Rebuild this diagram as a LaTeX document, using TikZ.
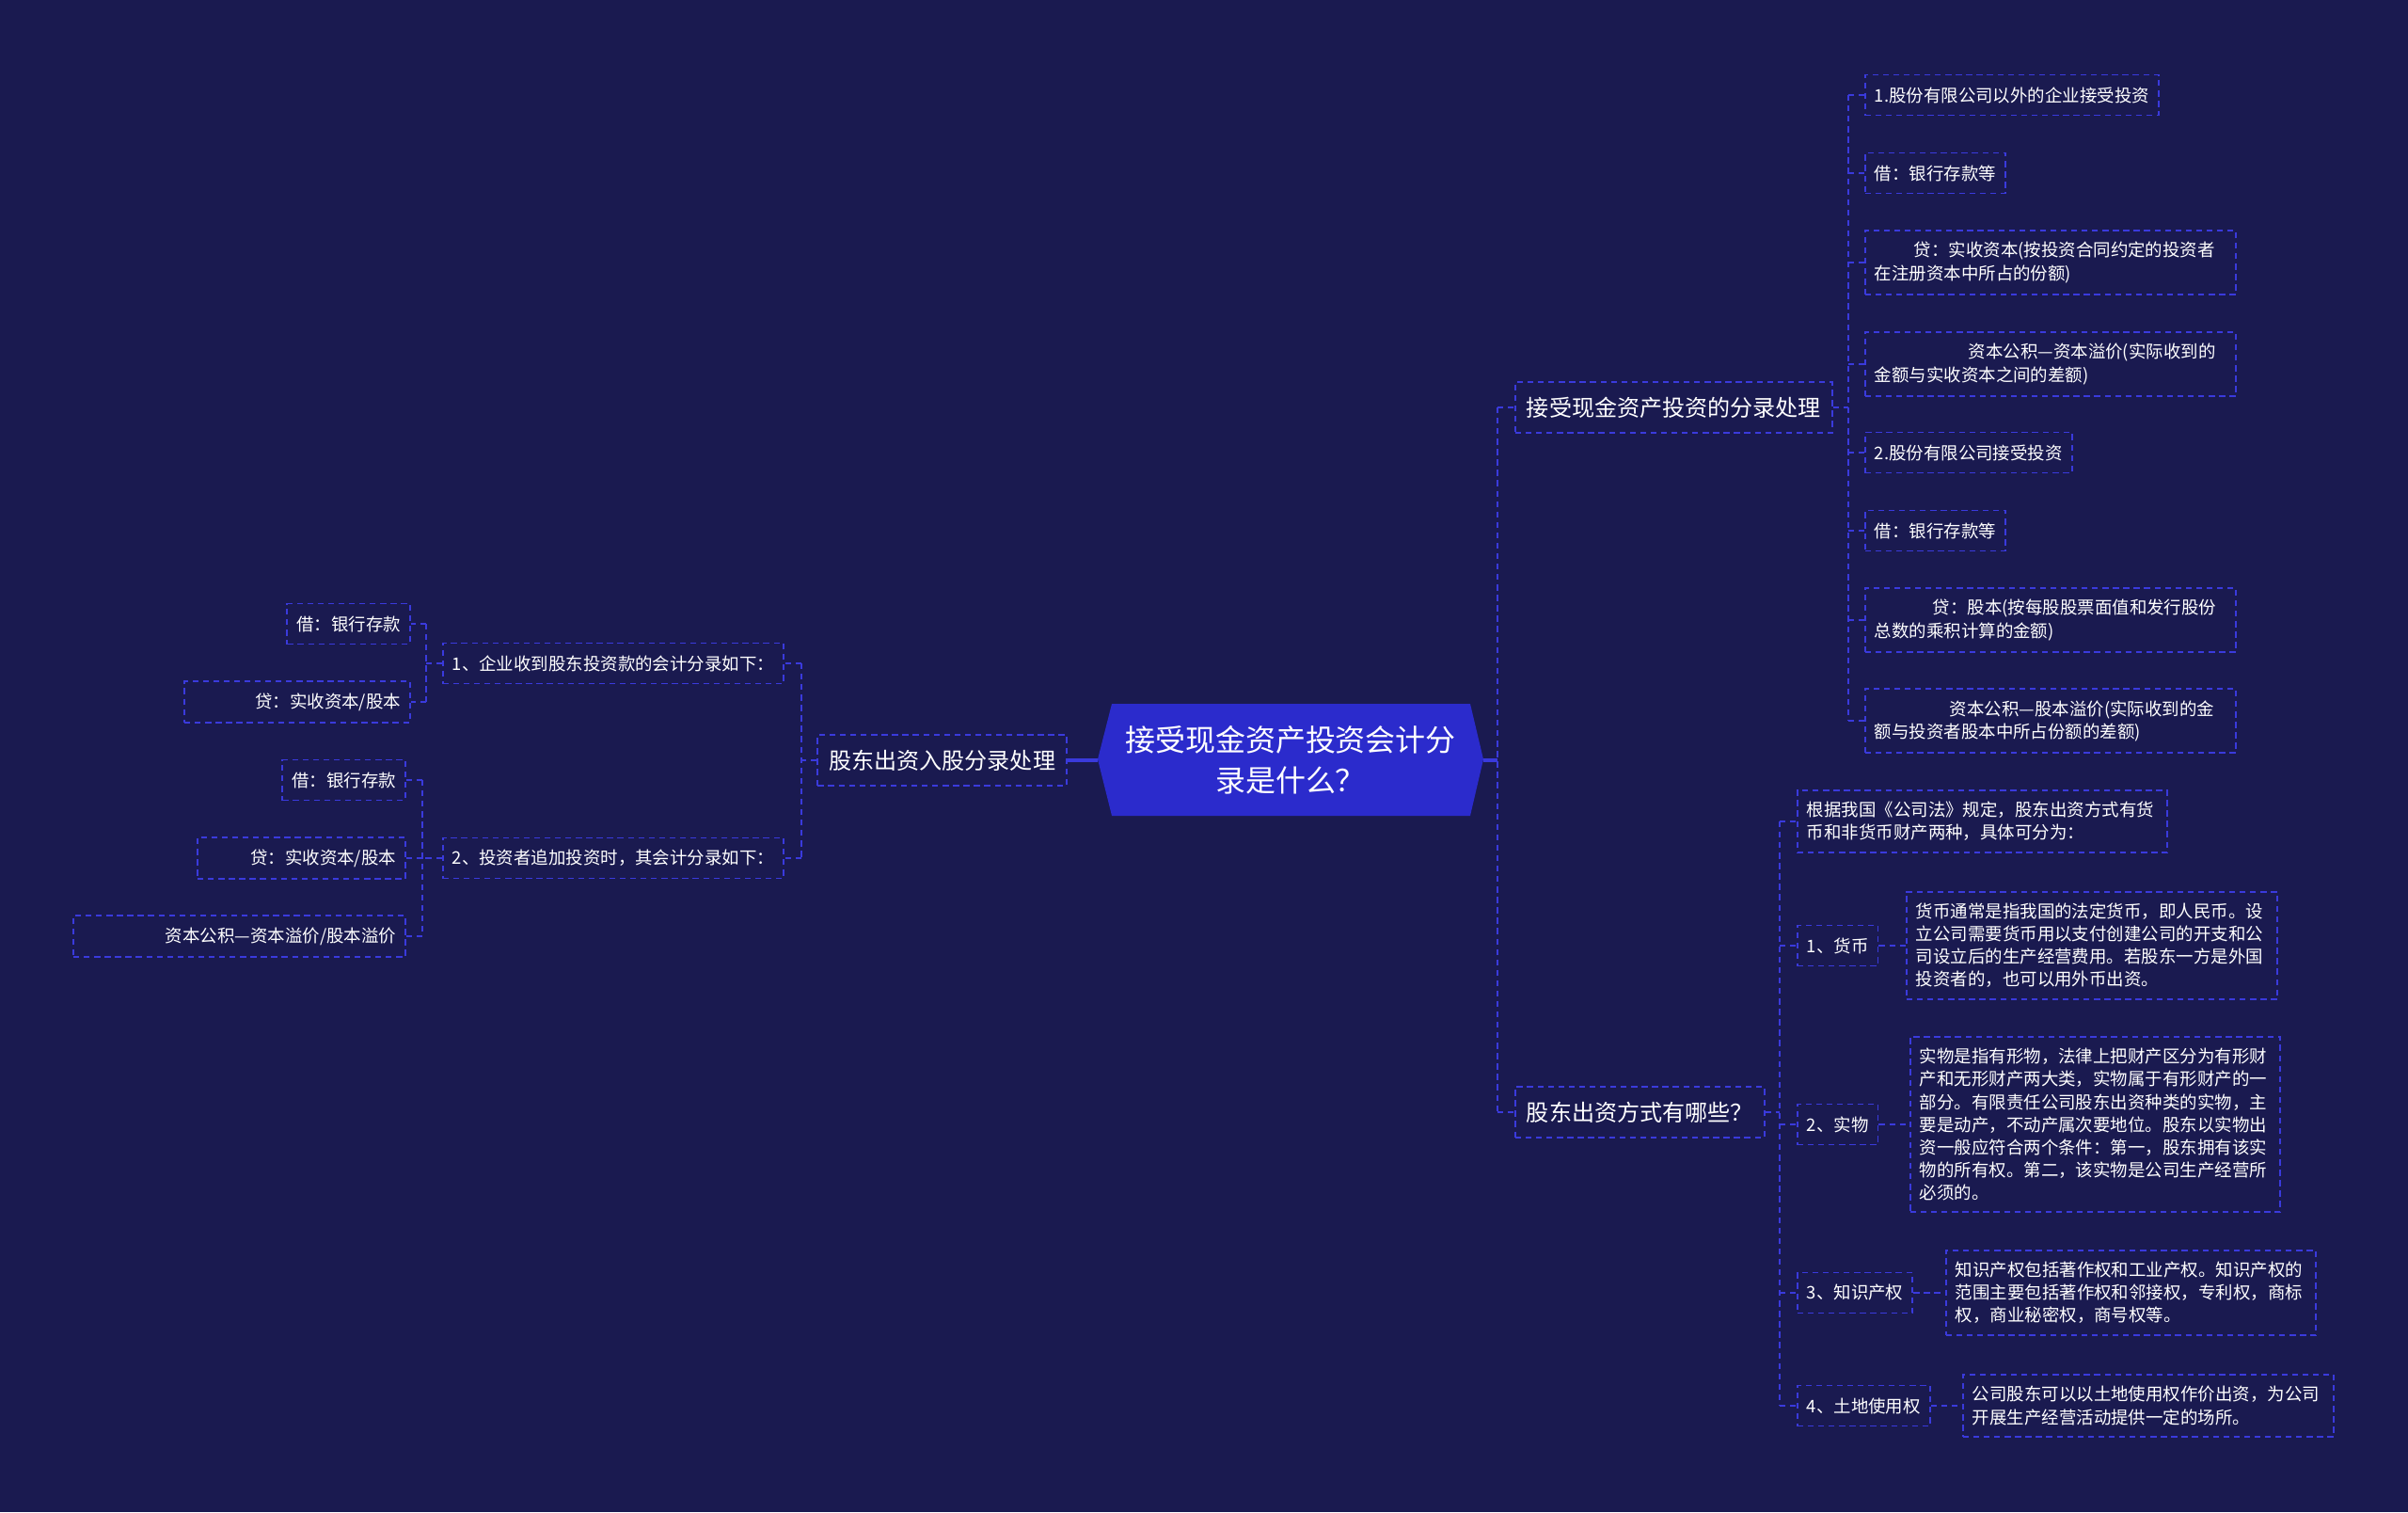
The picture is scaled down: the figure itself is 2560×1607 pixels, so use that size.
\documentclass[tikz,border=0pt]{standalone}
\usepackage{fontspec}
\setmainfont{Noto Sans CJK SC}
\usepackage{tikz}
\definecolor{cbg}{HTML}{1A1A50}
\definecolor{cline}{HTML}{3A3ADC}
\definecolor{chex}{HTML}{2B2BCC}
\tikzset{
  mlink/.style={cline, line width=1.05pt, dash pattern=on 3.6pt off 2.7pt},
  mtrunk/.style={cline, line width=1.8pt},
  mleaf/.style={draw=cline, line width=1.05pt, dash pattern=on 3.6pt off 2.7pt, text=white,
    font=\fontsize{10.5pt}{13.7pt}\selectfont, inner xsep=0.2cm, inner ysep=0.25cm, minimum height=0.86cm},
  mtopic/.style={mleaf, font=\fontsize{13.7pt}{17pt}\selectfont, inner xsep=0.24cm, minimum height=1.08cm},
  mroot/.style={text=white, align=center, font=\fontsize{18.2pt}{24.5pt}\selectfont,
    minimum width=8.2cm, inner sep=0pt}}
\newcommand{\leaf}[5]{\node[mleaf,#2] (#1) at (#3,#4) {#5};}
\newcommand{\leafw}[6]{%
  \pgfmathsetlengthmacro\mtw{(#5-20)*0.02cm}%
  \node[mleaf,#2,text width=\mtw] (#1) at (#3,#4) {#6};}
\newcommand{\fork}[6]{%
  \coordinate (fk) at (#2,0);
  \draw[mlink] (#1) -- (#1 -| fk);
  \draw[mlink] (#4.#3 -| fk) -- (#5.#3 -| fk);
  \foreach \ch in {#6}{\draw[mlink] (\ch.#3 -| fk) -- (\ch.#3);}}

\begin{document}
\begin{tikzpicture}[x=0.02cm,y=-0.02cm]
  \fill[cbg] (0,0) rectangle (2560,1607);
  \fill[chex] (1167,807) -- (1182,748) -- (1563,748) -- (1577,807) -- (1563,867) -- (1182,867) -- cycle;
  \node[mroot] (root) at (1372,808) {接受现金资产投资会计分\\录是什么？};
  \node[mtopic,anchor=west] (A) at (1610,433) {接受现金资产投资的分录处理};
  \node[mtopic,anchor=west] (B) at (1610,1182) {股东出资方式有哪些？};
  \node[mtopic,anchor=east] (L) at (1135,808) {股东出资入股分录处理};

  \leaf{p1}{anchor=east}{834}{705}{1、企业收到股东投资款的会计分录如下：}
  \leaf{p2}{anchor=east}{834}{912}{2、投资者追加投资时，其会计分录如下：}
  \leaf{c1}{anchor=east}{437}{663}{借：银行存款}
  \leafw{c2}{anchor=east,align=right}{437}{746}{240}{贷：实收资本/股本}
  \leaf{d1}{anchor=east}{432}{829}{借：银行存款}
  \leafw{d2}{anchor=east,align=right}{432}{912}{221}{贷：实收资本/股本}
  \leafw{d3}{anchor=east,align=right}{432}{995}{353}{资本公积—资本溢价/股本溢价}

  \leaf{a1}{anchor=west}{1982}{101}{1.股份有限公司以外的企业接受投资}
  \leaf{a2}{anchor=west}{1982}{184}{借：银行存款等}
  \leafw{a3}{anchor=west,align=left}{1982}{279}{394}{\hspace*{0.84cm}贷：实收资本(按投资合同约定的投资者\\在注册资本中所占的份额)}
  \leafw{a4}{anchor=west,align=left}{1982}{387}{394}{\hspace*{2cm}资本公积—资本溢价(实际收到的\\金额与实收资本之间的差额)}
  \leaf{a5}{anchor=west}{1982}{481}{2.股份有限公司接受投资}
  \leaf{a6}{anchor=west}{1982}{564}{借：银行存款等}
  \leafw{a7}{anchor=west,align=left}{1982}{659}{394}{\hspace*{1.24cm}贷：股本(按每股股票面值和发行股份\\总数的乘积计算的金额)}
  \leafw{a8}{anchor=west,align=left}{1982}{766}{394}{\hspace*{1.6cm}资本公积—股本溢价(实际收到的金\\额与投资者股本中所占份额的差额)}

  \leafw{b0}{anchor=west,align=left}{1910}{873}{393}{根据我国《公司法》规定，股东出资方式有货\\币和非货币财产两种，具体可分为：}
  \leaf{b1}{anchor=west}{1910}{1005}{1、货币}
  \leaf{b2}{anchor=west}{1910}{1195}{2、实物}
  \leaf{b3}{anchor=west}{1910}{1374}{3、知识产权}
  \leaf{b4}{anchor=west}{1910}{1494}{4、土地使用权}
  \leafw{g1}{anchor=west,align=left}{2026}{1005}{394}{货币通常是指我国的法定货币，即人民币。设\\立公司需要货币用以支付创建公司的开支和公\\司设立后的生产经营费用。若股东一方是外国\\投资者的，也可以用外币出资。}
  \leafw{g2}{anchor=west,align=left}{2030}{1195}{393}{实物是指有形物，法律上把财产区分为有形财\\产和无形财产两大类，实物属于有形财产的一\\部分。有限责任公司股东出资种类的实物，主\\要是动产，不动产属次要地位。股东以实物出\\资一般应符合两个条件：第一，股东拥有该实\\物的所有权。第二，该实物是公司生产经营所\\必须的。}
  \leafw{g3}{anchor=west,align=left}{2068}{1374}{393}{知识产权包括著作权和工业产权。知识产权的\\范围主要包括著作权和邻接权，专利权，商标\\权，商业秘密权，商号权等。}
  \leafw{g4}{anchor=west,align=left}{2086}{1494}{394}{公司股东可以以土地使用权作价出资，为公司\\开展生产经营活动提供一定的场所。}

  \fork{root.east}{1592}{west}{A}{B}{A,B}
  \draw[mtrunk] (root.east) -- ++(15,0);
  \draw[mtrunk] (root.west) -- (L.east);
  \fork{L.west}{852}{east}{p1}{p2}{p1,p2}
  \fork{p1.west}{453}{east}{c1}{c2}{c1,c2}
  \fork{p2.west}{449}{east}{d1}{d3}{d1,d2,d3}
  \fork{A.east}{1965}{west}{a1}{a8}{a1,a2,a3,a4,a5,a6,a7,a8}
  \fork{B.east}{1892}{west}{b0}{b4}{b0,b1,b2,b3,b4}
  \foreach \i in {1,...,4}{\draw[mlink] (b\i.east) -- (g\i.west);}
\end{tikzpicture}
\end{document}
